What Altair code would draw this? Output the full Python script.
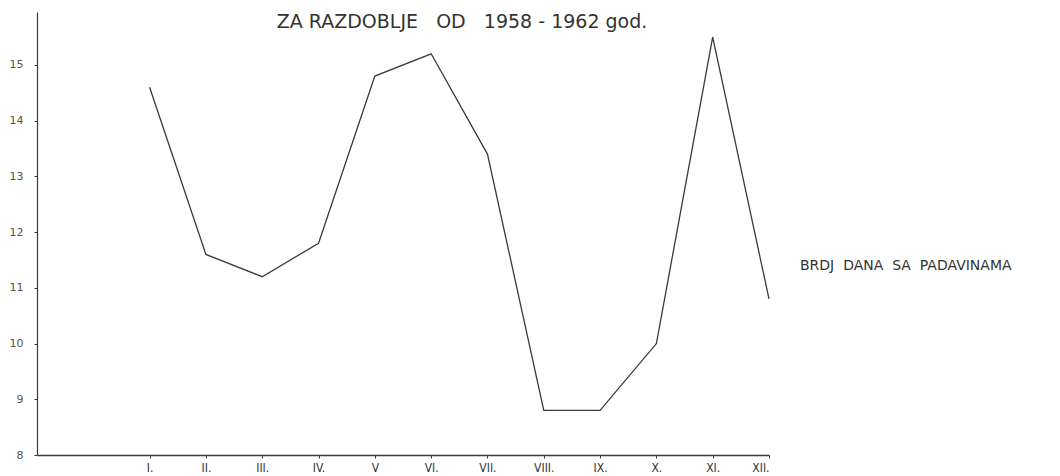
import altair as alt
import pandas as pd

# Data
month_idx = [1, 2, 3, 4, 5, 6, 7, 8, 9, 10, 11, 12]
month_labels = ["I.", "II.", "III.", "IV.", "V", "VI.", "VII.", "VIII.", "IX.", "X.", "XI.", "XII."]
rain_days = [14.6, 11.6, 11.2, 11.8, 14.8, 15.2, 13.4, 8.8, 8.8, 10.0, 15.5, 10.8]
y_ticks = [8, 9, 10, 11, 12, 13, 14, 15]

title_text = "ZA\u00a0RAZDOBLJE\u00a0\u00a0\u00a0OD\u00a0\u00a0\u00a01958\u00a0-\u00a01962\u00a0god."
series_label = "BRDJ\u00a0\u00a0DANA\u00a0\u00a0SA\u00a0\u00a0PADAVINAMA"

df = pd.DataFrame({"m": month_idx, "v": rain_days})

label_array = "[''," + ",".join("'%s'" % s for s in month_labels) + "]"

ink = "#3a3a3a"

W, H = 732, 443

line = alt.Chart(df).mark_line(color=ink, strokeWidth=1.3).encode(
    x=alt.X(
        "m:Q",
        scale=alt.Scale(domain=[-1, 12], nice=False, zero=False),
        axis=alt.Axis(
            values=month_idx,
            labelExpr=label_array + "[datum.value]",
            title=None,
            grid=False,
            domainColor=ink,
            domainWidth=1.4,
            tickColor=ink,
            tickSize=3,
            labelColor="#333",
            labelFont="DejaVu Sans Condensed, DejaVu Sans, sans-serif",
            labelFontSize=12,
            labelPadding=4,
        ),
    ),
    y=alt.Y(
        "v:Q",
        scale=alt.Scale(domain=[8, 15.95], nice=False, zero=False),
        axis=alt.Axis(
            values=y_ticks,
            title=None,
            grid=False,
            domainColor=ink,
            domainWidth=1.2,
            tickColor=ink,
            tickSize=3,
            labelColor="#555",
            labelFont="DejaVu Sans",
            labelFontSize=11,
            labelPadding=11,
        ),
    ),
)

title = alt.Chart(pd.DataFrame({"t": [title_text]})).mark_text(
    font="DejaVu Sans", fontSize=19, color="#333", align="center", baseline="alphabetic"
).encode(text="t:N", x=alt.value(425), y=alt.value(16))

label = alt.Chart(pd.DataFrame({"t": [series_label]})).mark_text(
    font="DejaVu Sans", fontSize=14, color="#333", align="left", baseline="middle"
).encode(text="t:N", x=alt.value(763), y=alt.value(254))

chart = (
    alt.layer(line, title, label)
    .properties(
        width=W,
        height=H,
        padding={"left": 29, "top": 4, "right": 283, "bottom": 20},
        autosize=alt.AutoSizeParams(type="none"),
        background="white",
    )
    .configure_view(strokeWidth=0)
)

chart.save("out.html", embed_options={"renderer": "svg", "actions": False})
